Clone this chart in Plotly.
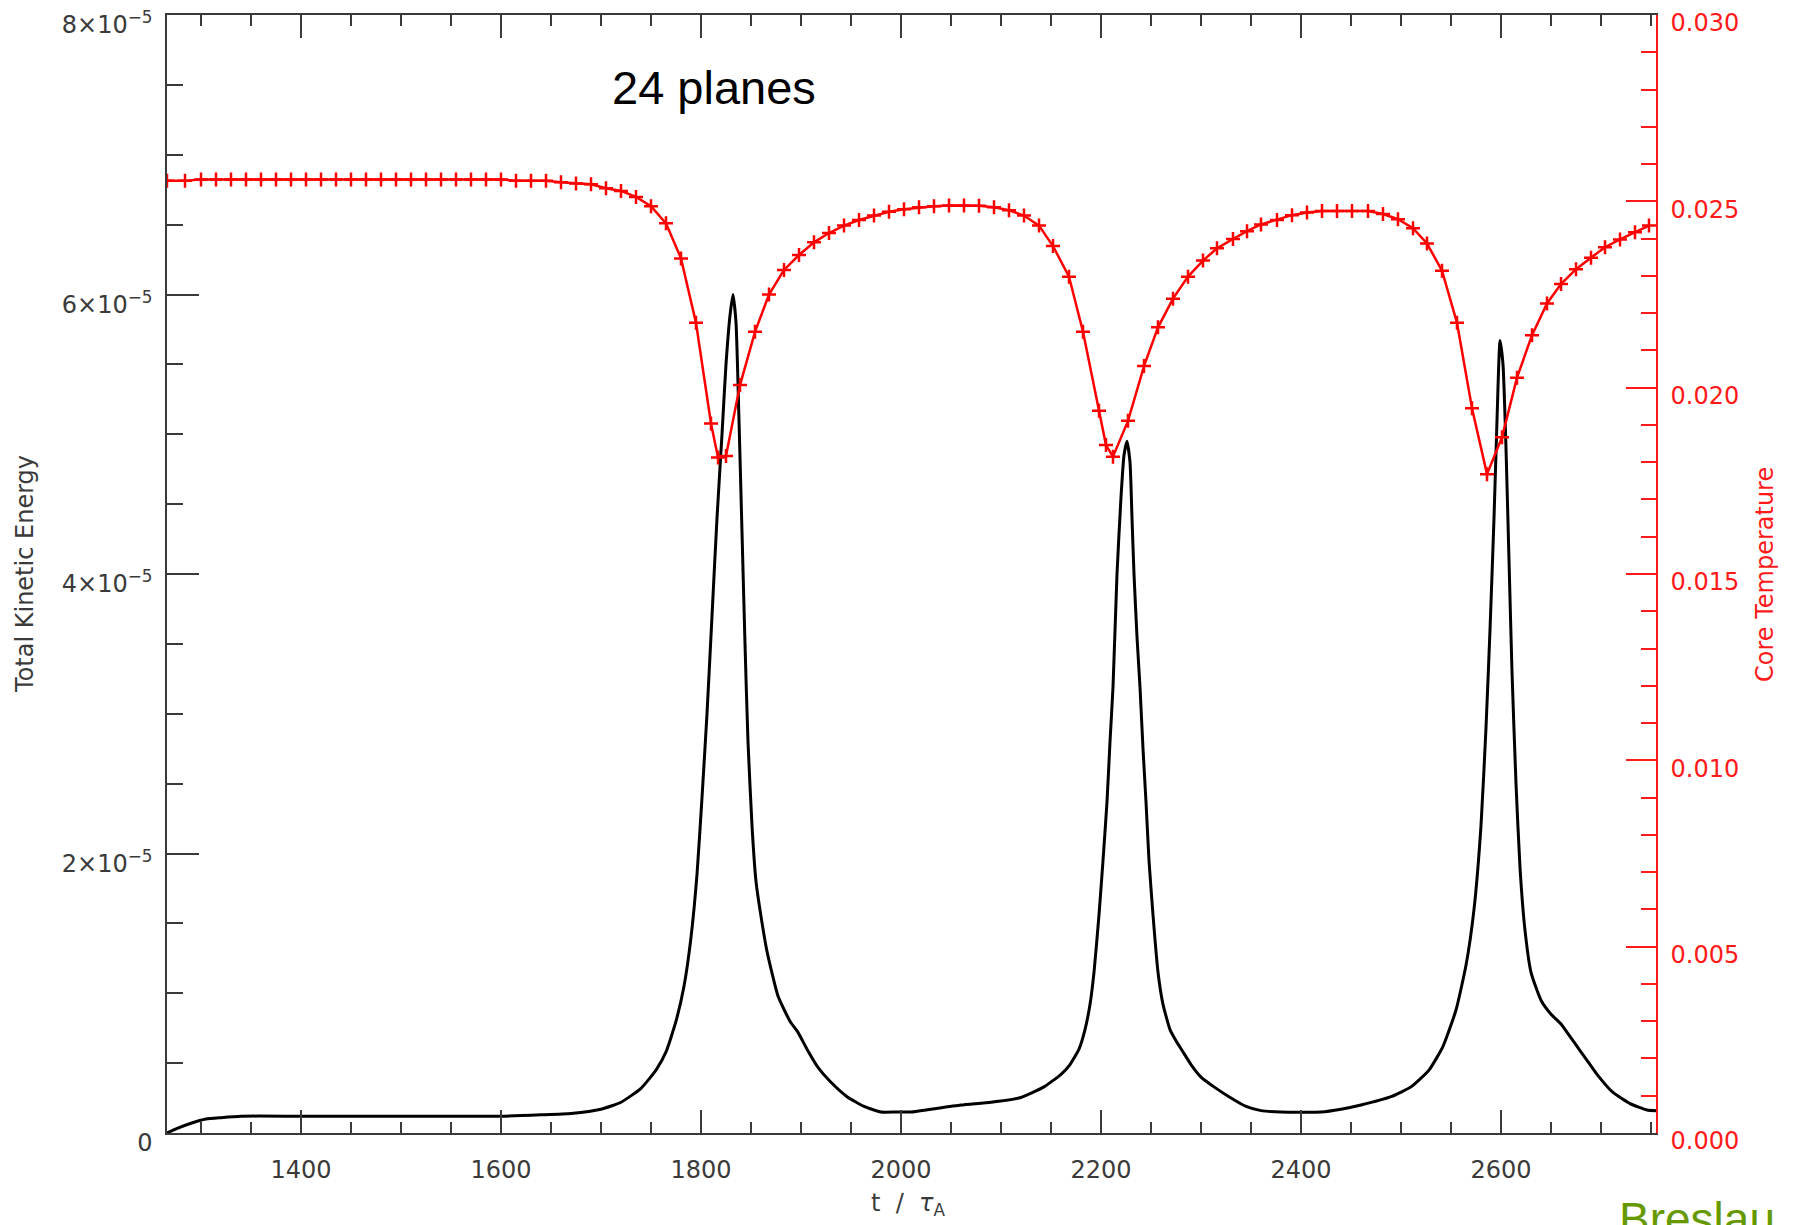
import plotly.graph_objects as go

# ---- Total kinetic energy (black curve), values in units of 1e-5 ----
t_ke = [1266, 1275, 1290, 1305, 1320, 1340, 1400, 1500, 1600, 1640, 1670, 1700, 1720, 1740,
        1755, 1765, 1775, 1783, 1790, 1796, 1801, 1806, 1811, 1816, 1821, 1825, 1829, 1832,
        1835, 1838, 1841, 1844, 1847, 1851, 1855, 1860, 1866, 1877, 1889, 1897, 1906, 1917,
        1929, 1946, 1963, 1980, 1995, 2010, 2030, 2060, 2090, 2118, 2143, 2160, 2169, 2178,
        2184, 2189, 2193, 2198, 2202, 2206, 2209, 2212, 2216, 2220, 2223, 2226, 2229, 2231,
        2233, 2236, 2239, 2242, 2245, 2248, 2252, 2257, 2262, 2269, 2275, 2282, 2290, 2300,
        2313, 2330, 2345, 2360, 2380, 2420, 2440, 2460, 2490, 2510, 2528, 2542, 2555, 2565,
        2573, 2580, 2585, 2589, 2593, 2596, 2599, 2602, 2605, 2608, 2611, 2615, 2619, 2624,
        2630, 2640, 2650, 2660, 2670, 2679, 2688, 2696, 2712, 2729, 2746, 2755]
ke_e5 = [0.00, 0.03, 0.07, 0.10, 0.11, 0.12, 0.12, 0.12, 0.12, 0.13, 0.14, 0.17, 0.22, 0.32,
         0.45, 0.58, 0.80, 1.05, 1.40, 1.85, 2.40, 3.00, 3.70, 4.40, 5.00, 5.50, 5.85, 6.00,
         5.80, 5.10, 4.30, 3.50, 2.80, 2.20, 1.80, 1.55, 1.30, 0.98, 0.80, 0.72, 0.60, 0.47,
         0.37, 0.26, 0.19, 0.15, 0.15, 0.15, 0.17, 0.20, 0.22, 0.25, 0.33, 0.42, 0.49, 0.60,
         0.74, 0.92, 1.15, 1.56, 1.95, 2.37, 2.80, 3.19, 4.00, 4.55, 4.85, 4.95, 4.80, 4.40,
         4.00, 3.55, 3.19, 2.75, 2.37, 1.95, 1.56, 1.15, 0.92, 0.74, 0.66, 0.58, 0.49, 0.40,
         0.33, 0.25, 0.19, 0.16, 0.15, 0.15, 0.17, 0.20, 0.26, 0.33, 0.45, 0.62, 0.88, 1.20,
         1.60, 2.20, 2.90, 3.60, 4.40, 5.10, 5.67, 5.50, 4.90, 4.10, 3.30, 2.50, 1.90, 1.45,
         1.15, 0.95, 0.85, 0.78, 0.68, 0.59, 0.50, 0.42, 0.29, 0.21, 0.165, 0.16]

# ---- Core temperature (red curve with + markers) ----
t_temp = [1266, 1284, 1300, 1315, 1330, 1345, 1360, 1375, 1390, 1405, 1420, 1435, 1450, 1465,
          1480, 1495, 1510, 1525, 1540, 1555, 1570, 1585, 1600, 1615, 1630, 1645, 1660, 1675,
          1690, 1705, 1720, 1735, 1750, 1765, 1780, 1795, 1810, 1817, 1825, 1839, 1854, 1868,
          1883, 1898, 1913, 1928, 1943, 1958, 1973, 1988, 2003, 2018, 2033, 2048, 2063, 2078,
          2093, 2108, 2123, 2138, 2152, 2168, 2182, 2198, 2205, 2212, 2227, 2243, 2257, 2272,
          2287, 2302, 2316, 2332, 2346, 2360, 2376, 2391, 2406, 2421, 2436, 2451, 2467, 2482,
          2497, 2512, 2526, 2541, 2556, 2571, 2586, 2601, 2616, 2631, 2646, 2660, 2675, 2690,
          2704, 2719, 2734, 2748]
temp = [0.02555, 0.02555, 0.02559, 0.02559, 0.02559, 0.02559, 0.02559, 0.02559, 0.02559,
        0.02559, 0.02559, 0.02559, 0.02559, 0.02559, 0.02559, 0.02559, 0.02559, 0.02559,
        0.02559, 0.02559, 0.02559, 0.02559, 0.02559, 0.02555, 0.02555, 0.02555, 0.02551,
        0.02548, 0.02546, 0.02535, 0.02528, 0.02512, 0.02487, 0.02441, 0.02347, 0.02174,
        0.01904, 0.01813, 0.01817, 0.02007, 0.02150, 0.02250, 0.02316, 0.02356, 0.02390,
        0.02415, 0.02435, 0.02450, 0.02462, 0.02472, 0.02479, 0.02484, 0.02487, 0.02489,
        0.02489, 0.02488, 0.02484, 0.02476, 0.02462, 0.02435, 0.02380, 0.02298, 0.02150,
        0.01938, 0.01846, 0.01815, 0.01911, 0.02058, 0.02162, 0.02239, 0.02298, 0.02341,
        0.02374, 0.02399, 0.02420, 0.02438, 0.02450, 0.02463, 0.02470, 0.02474, 0.02474,
        0.02474, 0.02474, 0.02466, 0.02452, 0.02428, 0.02387, 0.02314, 0.02174, 0.01945,
        0.01768, 0.01867, 0.02027, 0.02141, 0.02226, 0.02278, 0.02318, 0.02349, 0.02377,
        0.02398, 0.02417, 0.02435]

AX = "#3a3a3a"
RED = "#ff1a1a"
FONT = "DejaVu Sans"

fig = go.Figure()
fig.add_trace(go.Scatter(x=t_ke, y=[v * 1e-5 for v in ke_e5], mode="lines",
                         line=dict(color="black", width=3, shape="spline", smoothing=0.5),
                         yaxis="y", showlegend=False))
fig.add_trace(go.Scatter(x=t_temp, y=temp, mode="lines+markers",
                         line=dict(color="red", width=2.5),
                         marker=dict(symbol="cross-thin", size=10,
                                     line=dict(color="red", width=2.5)),
                         yaxis="y2", showlegend=False))

# the page adds an 8px body margin, so the figure is 8px smaller and shifted
fig.update_layout(
    width=1787, height=1217,
    margin=dict(l=159, r=139, t=7, b=92, pad=0, autoexpand=False),
    paper_bgcolor="white", plot_bgcolor="white",
    font=dict(family=FONT, size=24, color=AX),
    xaxis=dict(range=[1266, 2755], tick0=1400, dtick=200, ticks="inside", ticklen=23,
               tickcolor=AX, tickwidth=1.5, showline=True, linecolor=AX, linewidth=1.5,
               mirror="ticks", showgrid=False, zeroline=False, ticklabelstandoff=14,
               automargin=False,
               minor=dict(dtick=50, tick0=1400, ticks="inside", ticklen=11,
                          tickcolor=AX, tickwidth=1.5, showgrid=False)),
    yaxis=dict(range=[0, 8.00001e-5], tick0=0, dtick=2e-5, exponentformat="power",
               showexponent="all", ticks="inside", ticklen=32, tickcolor=AX, tickwidth=1.5,
               showline=True, linecolor=AX, linewidth=1.5, showgrid=False, zeroline=False,
               ticklabelstandoff=8, automargin=False, ticklabeloverflow="allow",
               ticklabelshift=10,
               minor=dict(dtick=0.5e-5, tick0=0, ticks="inside", ticklen=16,
                          tickcolor=AX, tickwidth=1.5, showgrid=False)),
    yaxis2=dict(range=[0, 0.030001], overlaying="y", side="right", tick0=0, dtick=0.005,
                tickformat=".3f", ticks="inside", ticklen=30, tickcolor=RED, tickwidth=1.5,
                showline=True, linecolor=RED, linewidth=1.5, showgrid=False, zeroline=False,
                tickfont=dict(color=RED), ticklabelstandoff=8, automargin=False,
                ticklabeloverflow="allow", ticklabelshift=8,
                minor=dict(dtick=0.001, tick0=0, ticks="inside", ticklen=15,
                           tickcolor=RED, tickwidth=1.5, showgrid=False)),
)

fig.add_annotation(text="24 planes", xref="x", yref="paper", x=1813, y=0.935,
                   xanchor="center", yanchor="middle", showarrow=False,
                   font=dict(family="Liberation Sans", size=47, color="black"))
fig.add_annotation(text="Total Kinetic Energy", xref="paper", yref="paper",
                   x=-0.0954, y=0.5, textangle=-90, xanchor="center", yanchor="middle",
                   showarrow=False, font=dict(family=FONT, size=24, color=AX))
fig.add_annotation(text="Core Temperature", xref="paper", yref="paper",
                   x=1.0732, y=0.5, textangle=-90, xanchor="center", yanchor="middle",
                   showarrow=False, font=dict(family=FONT, size=24, color=RED))
fig.add_annotation(text="t  /  <i>τ</i><sub>A</sub>", xref="paper", yref="paper",
                   x=0.4976, y=-0.064, xanchor="center", yanchor="middle",
                   showarrow=False, font=dict(family=FONT, size=24, color=AX))
fig.add_annotation(text="Breslau", xref="paper", yref="paper", x=0.9738, y=-0.0523,
                   xanchor="left", yanchor="top", showarrow=False,
                   font=dict(family="Liberation Sans", size=46, color="#669900"))

fig.write_html("out.html")
